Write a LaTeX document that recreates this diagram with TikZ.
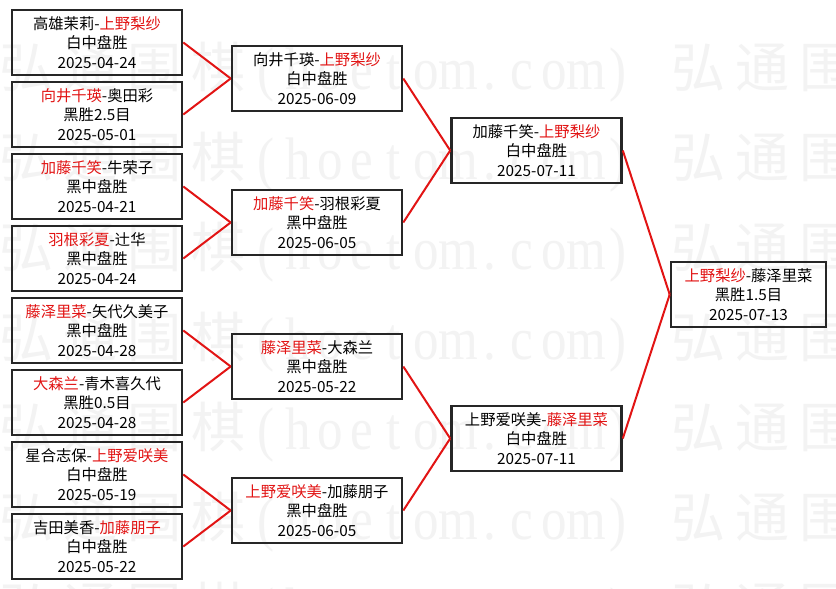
\documentclass[tikz,border=0pt]{standalone}
\usepackage{fontspec}
\setmainfont{Noto Sans CJK SC}
\newfontfamily\wmcjk{Noto Sans CJK SC}
\newfontfamily\wmlat[FakeStretch=0.85]{Liberation Serif}
\definecolor{myred}{RGB}{226,20,20}
\definecolor{wmgray}{RGB}{243,243,243}
\newcommand{\rd}[1]{\textcolor{myred}{#1}}
\begin{document}
\begin{tikzpicture}[x=1pt,y=-1pt,
  match/.style={draw=black!85,line width=2.6pt,minimum width=170pt,minimum height=65pt,inner sep=0pt,align=center,font=\fontsize{15.3}{19.2}\selectfont},
  conn/.style={draw=myred,line width=2pt},
  wmc/.style={text=wmgray,anchor=base,inner sep=0pt,font=\wmcjk\fontsize{54}{54}\selectfont},
  wml/.style={text=wmgray,anchor=base,inner sep=0pt,font=\wmlat\fontsize{60}{60}\selectfont}]
\useasboundingbox (0,0) rectangle (836,589);
\fill[white] (0,0) rectangle (836,589);
\begin{scope}
\clip (0,0) rectangle (836,589);
\foreach \yy in {67,157,...,607} {
  \foreach \px in {-6,666} {
    \foreach \c [count=\i from 0] in {弘,通,围,棋}
      \node[wmc] at (\px+32+64*\i, \yy+20) {\c};
    \foreach \c [count=\i from 0] in {{(},h,o,e,t,o,m,.,c,o,m,{)}}
      \node[wml] at (\px+272+32*\i, \yy+22) {\c};
  }
}
\end{scope}

% round 1
\node[match] (m1) at (97,42.5)  {高雄茉莉-\rd{上野梨纱}\\白中盘胜\\2025-04-24};
\node[match] (m2) at (97,114.5) {\rd{向井千瑛}-奥田彩\\黑胜2.5目\\2025-05-01};
\node[match] (m3) at (97,186.5) {\rd{加藤千笑}-牛荣子\\黑中盘胜\\2025-04-21};
\node[match] (m4) at (97,258.5) {\rd{羽根彩夏}-辻华\\黑中盘胜\\2025-04-24};
\node[match] (m5) at (97,330.5) {\rd{藤泽里菜}-矢代久美子\\黑中盘胜\\2025-04-28};
\node[match] (m6) at (97,402.5) {\rd{大森兰}-青木喜久代\\黑胜0.5目\\2025-04-28};
\node[match] (m7) at (97,474.5) {星合志保-\rd{上野爱咲美}\\白中盘胜\\2025-05-19};
\node[match] (m8) at (97,546.5) {吉田美香-\rd{加藤朋子}\\白中盘胜\\2025-05-22};
% round 2
\node[match] (qa) at (317,78.5)  {向井千瑛-\rd{上野梨纱}\\白中盘胜\\2025-06-09};
\node[match] (qb) at (317,222.5) {\rd{加藤千笑}-羽根彩夏\\黑中盘胜\\2025-06-05};
\node[match] (qc) at (317,366.5) {\rd{藤泽里菜}-大森兰\\黑中盘胜\\2025-05-22};
\node[match] (qd) at (317,510.5) {\rd{上野爱咲美}-加藤朋子\\黑中盘胜\\2025-06-05};
% semifinals
\node[match] (sa) at (536.5,150.5) {加藤千笑-\rd{上野梨纱}\\白中盘胜\\2025-07-11};
\node[match] (sb) at (536.5,438.5) {上野爱咲美-\rd{藤泽里菜}\\白中盘胜\\2025-07-11};
% final
\node[match,minimum width=155pt] (fi) at (748.5,294.5) {\rd{上野梨纱}-藤泽里菜\\黑胜1.5目\\2025-07-13};

% connectors
\draw[conn] (m1.east) -- (qa.west);
\draw[conn] (m2.east) -- (qa.west);
\draw[conn] (m3.east) -- (qb.west);
\draw[conn] (m4.east) -- (qb.west);
\draw[conn] (m5.east) -- (qc.west);
\draw[conn] (m6.east) -- (qc.west);
\draw[conn] (m7.east) -- (qd.west);
\draw[conn] (m8.east) -- (qd.west);
\draw[conn] (qa.east) -- (sa.west);
\draw[conn] (qb.east) -- (sa.west);
\draw[conn] (qc.east) -- (sb.west);
\draw[conn] (qd.east) -- (sb.west);
\draw[conn] (sa.east) -- (fi.west);
\draw[conn] (sb.east) -- (fi.west);
\end{tikzpicture}
\end{document}
